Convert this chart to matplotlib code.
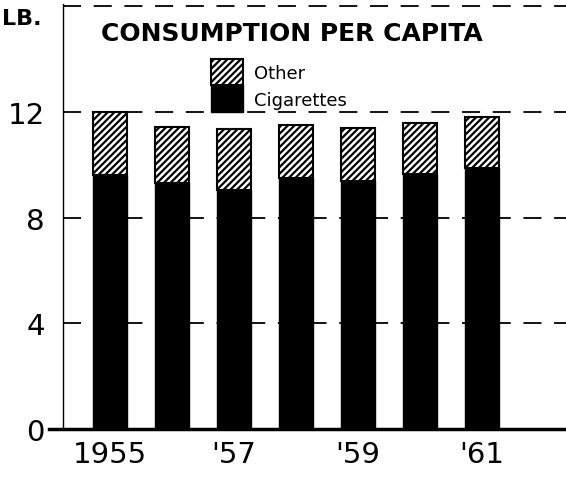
import matplotlib
matplotlib.use('Agg')
import matplotlib.pyplot as plt
import numpy as np

# 자료 (파운드/1인당)
years = ['1955', '1956', '1957', '1958', '1959', '1960', '1961']
tick_labels = ['1955', '', "'57", '', "'59", '', "'61"]
cigarettes = [9.6, 9.3, 9.05, 9.5, 9.4, 9.65, 9.9]
total = [12.0, 11.45, 11.35, 11.5, 11.4, 11.6, 11.8]
other = [t - c for t, c in zip(total, cigarettes)]
y_ticks = [0, 4, 8, 12]

plt.rcParams['hatch.linewidth'] = 1.6
plt.rcParams['font.family'] = ['DejaVu Sans']

fig = plt.figure(figsize=(5.66, 4.81), dpi=100)
ax = fig.add_axes([0.111, 0.106, 0.889, 0.884])

x = np.arange(len(years))
ax.bar(x, cigarettes, width=0.55, color='black', edgecolor='black',
       label='Cigarettes', zorder=3)
ax.bar(x, other, width=0.55, bottom=cigarettes, color='white',
       edgecolor='black', hatch='/////', lw=1.5, label='Other', zorder=3)

# 점선 격자
for yv in [4, 8, 12, 16]:
    ax.axhline(yv, color='black', lw=1.3, ls=(0, (10, 7)), zorder=1)

ax.set_xlim(-0.76, 7.35)
ax.set_ylim(0, 16.1)
ax.set_xticks(x)
ax.set_xticklabels(tick_labels, fontsize=21)
ax.set_yticks(y_ticks)
ax.set_yticklabels([str(v) for v in y_ticks], fontsize=21)
ax.tick_params(axis='y', length=0, pad=13)
ax.tick_params(axis='x', length=0, pad=8)

for s in ['top', 'right']:
    ax.spines[s].set_visible(False)
ax.spines['left'].set_linewidth(1.0)
ax.spines['bottom'].set_linewidth(2.5)
ax.spines['bottom'].set_bounds(-0.99, 7.35)
ax.spines['bottom'].set_clip_on(False)
ax.spines['bottom'].set_zorder(4)

fig.text(0.004, 0.981, 'LB.', fontsize=16, fontweight='bold',
         ha='left', va='top')
ax.text(0.455, 0.931, 'CONSUMPTION PER CAPITA', transform=ax.transAxes,
        fontsize=18, fontweight='bold', ha='center', va='center')

handles, labels = ax.get_legend_handles_labels()
leg = ax.legend(handles[::-1], labels[::-1], loc='upper left',
                bbox_to_anchor=(0.276, 0.892), frameon=False, fontsize=13,
                handlelength=1.78, handleheight=1.9, labelspacing=0,
                handletextpad=0.6, borderpad=0)
leg.set_zorder(5)

fig.savefig('out.png', dpi=100)
